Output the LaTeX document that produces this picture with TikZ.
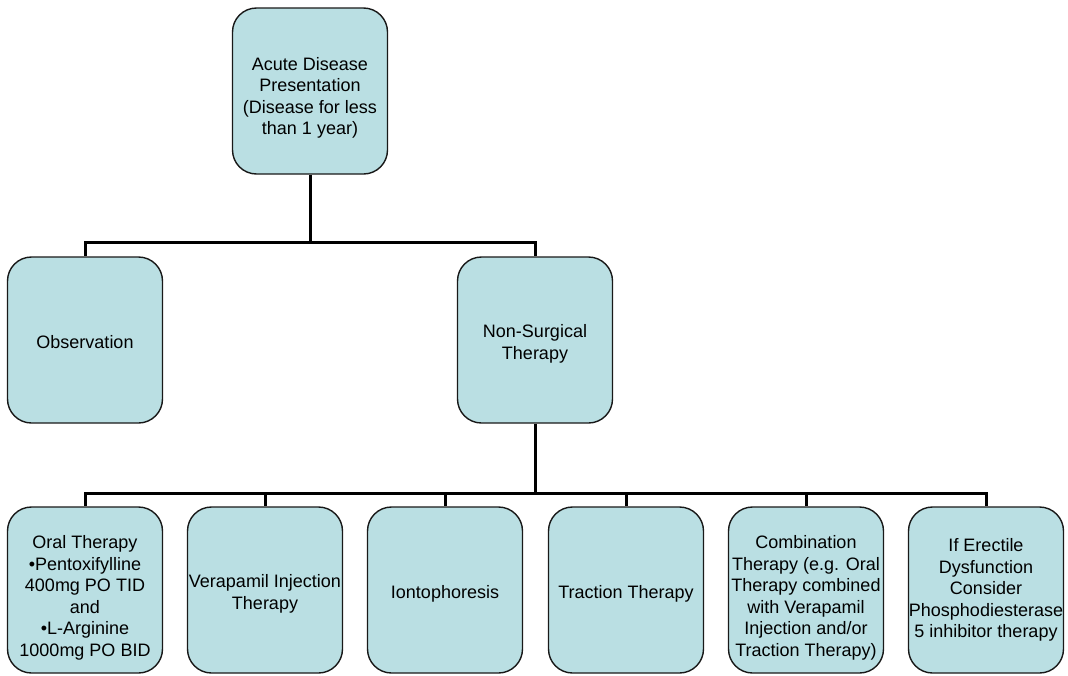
\documentclass[tikz,border=0pt]{standalone}
\usepackage{fontspec}
\setmainfont{Liberation Sans}
\definecolor{boxfill}{HTML}{BADFE3}
\begin{document}
\begin{tikzpicture}[x=1pt,y=-1pt,
  box/.style={draw=black!90, line width=1.4pt, fill=boxfill, rounded corners=24pt,
    minimum width=155pt, minimum height=166pt, inner sep=0pt},
  boxtext/.style={inner sep=0pt, align=center,
    font=\fontsize{18}{21.5}\selectfont, text=black},
  link/.style={line width=3pt, black, line join=miter}]
\useasboundingbox (0,0) rectangle (1068,675);

% top level
\node[box] (acute) at (310,91) {};
\node[boxtext] (acute-t) at ([yshift=-7pt]acute.center) {Acute Disease\\Presentation\\(Disease for less\\than 1 year)};

% second level
\node[box] (obs) at (85,340) {};
\node[boxtext] (obs-t) at ([yshift=-2pt]obs.center) {Observation};
\node[box] (nonsurg) at (535,340) {};
\node[boxtext] (nonsurg-t) at ([yshift=-4pt]nonsurg.center) {Non-Surgical\\Therapy};

% third level
\node[box] (oral) at (85,590) {};
\node[boxtext] (oral-t) at ([yshift=-8pt]oral.center) {Oral Therapy\\•Pentoxifylline\\400mg PO TID\\and\\•L-Arginine\\1000mg PO BID};
\node[box] (verap) at (265,590) {};
\node[boxtext] (verap-t) at ([yshift=-4pt]verap.center) {Verapamil Injection\\Therapy};
\node[box] (ionto) at (445,590) {};
\node[boxtext] (ionto-t) at ([yshift=-4pt]ionto.center) {Iontophoresis};
\node[box] (tract) at (626,590) {};
\node[boxtext] (tract-t) at ([yshift=-4pt]tract.center) {Traction Therapy};
\node[box] (combo) at (806,590) {};
\node[boxtext] (combo-t) at ([yshift=-8pt]combo.center) {Combination\\Therapy (e.g. Oral\\Therapy combined\\with Verapamil\\Injection and/or\\Traction Therapy)};
\node[box] (pde) at (986,590) {};
\node[boxtext] (pde-t) at (pde.center) {If Erectile\\Dysfunction\\Consider\\Phosphodiesterase\\5 inhibitor therapy};

% connectors
\coordinate (jA) at (310,242);
\coordinate (jB) at (535,493);
\draw[link] (acute.south) -- (jA);
\draw[link] (jA) -| (obs.north);
\draw[link] (jA) -| (nonsurg.north);
\draw[link] (nonsurg.south) -- (jB);
\foreach \b in {oral,verap,ionto,tract,combo,pde}
  \draw[link] (jB) -| (\b.north);
\end{tikzpicture}
\end{document}
